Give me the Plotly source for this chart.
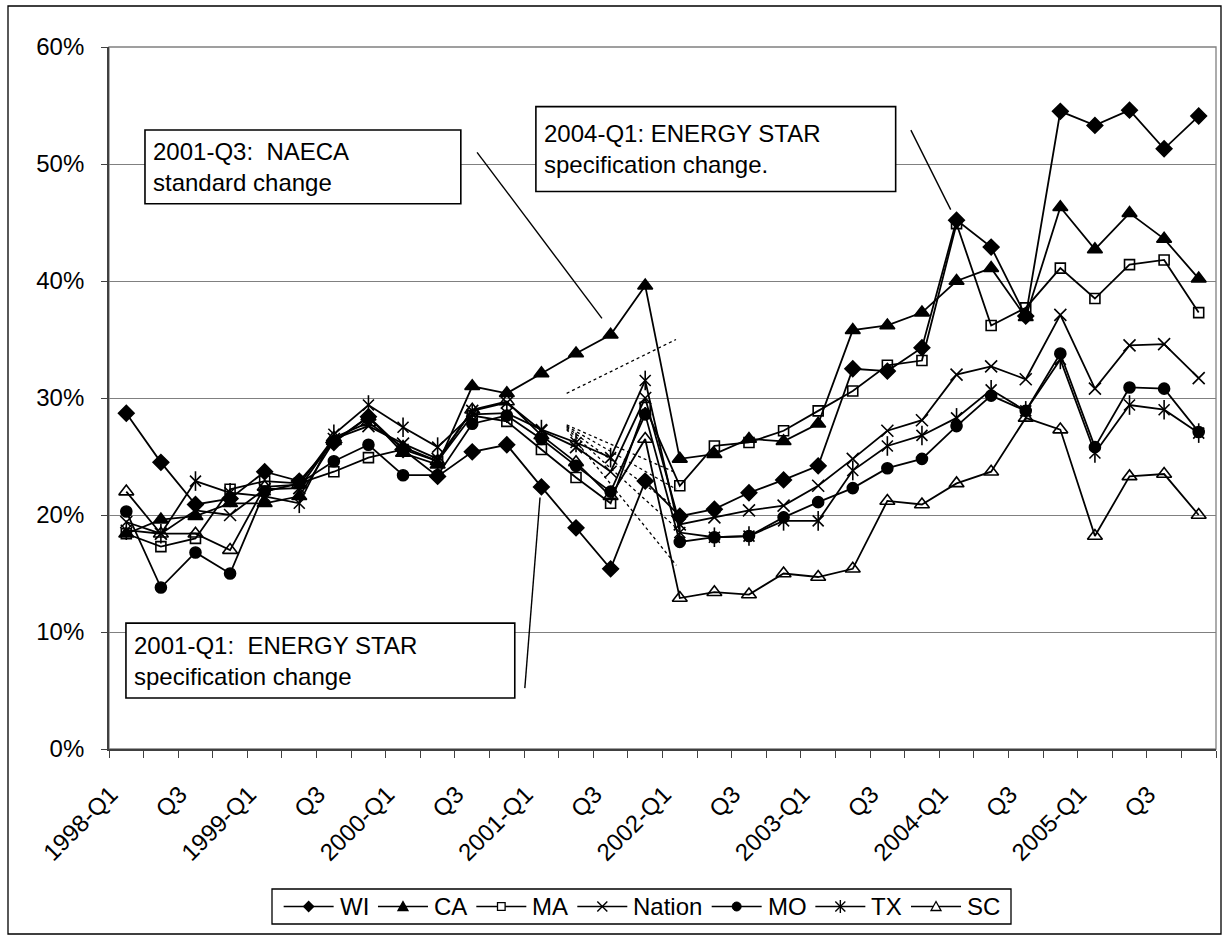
import plotly.graph_objects as go

# Quarterly market share by state, 1998-Q1 .. 2005-Q4
quarters = [f"{y}-Q{q}" for y in range(1998, 2006) for q in range(1, 5)]
tick_labels = ["1998-Q1", "Q3", "1999-Q1", "Q3", "2000-Q1", "Q3", "2001-Q1", "Q3",
               "2002-Q1", "Q3", "2003-Q1", "Q3", "2004-Q1", "Q3", "2005-Q1", "Q3"]

wi = [28.7, 24.5, 20.9, 21.4, 23.7, 22.9, 26.2, 28.4, 25.6, 23.3, 25.4, 26.0, 22.4, 18.9, 15.4, 22.9,
      19.9, 20.5, 21.9, 23.0, 24.2, 32.5, 32.3, 34.3, 45.2, 42.9, 37.0, 54.5, 53.3, 54.6, 51.3, 54.1]
ca = [18.4, 19.6, 19.9, 21.0, 21.0, 21.6, 26.3, 28.4, 25.3, 24.3, 31.0, 30.4, 32.1, 33.8, 35.4, 39.6,
      24.8, 25.2, 26.5, 26.3, 27.8, 35.8, 36.2, 37.3, 40.0, 41.1, 36.9, 46.3, 42.7, 45.8, 43.6, 40.2]
ma = [18.4, 17.3, 18.0, 22.2, 22.9, 22.7, 23.7, 24.9, 25.6, 24.6, 28.5, 28.0, 25.6, 23.2, 21.0, 29.2,
      22.5, 25.9, 26.2, 27.2, 28.9, 30.6, 32.8, 33.2, 44.9, 36.2, 37.7, 41.1, 38.5, 41.4, 41.8, 37.3]
nation = [19.4, 18.4, 20.4, 20.0, 22.2, 22.3, 26.5, 27.6, 26.1, 24.8, 28.9, 29.6, 27.2, 25.8, 23.7, 30.0,
          19.2, 19.8, 20.4, 20.8, 22.5, 24.8, 27.2, 28.1, 32.0, 32.7, 31.6, 37.1, 30.8, 34.5, 34.6, 31.7]
mo = [20.3, 13.8, 16.8, 15.0, 22.0, 22.7, 24.6, 26.0, 23.4, 23.4, 27.8, 28.5, 26.5, 24.2, 22.0, 28.6,
      17.7, 18.1, 18.2, 19.8, 21.1, 22.3, 24.0, 24.8, 27.6, 30.2, 28.9, 33.8, 25.8, 30.9, 30.8, 27.1]
tx = [18.7, 18.4, 22.9, 21.9, 21.6, 21.0, 26.9, 29.4, 27.5, 25.8, 28.6, 28.7, 27.3, 26.2, 24.9, 31.5,
      18.5, 18.1, 18.2, 19.5, 19.5, 23.8, 25.9, 26.8, 28.3, 30.7, 28.9, 33.3, 25.3, 29.4, 29.0, 27.0]
sc = [22.0, 18.4, 18.4, 17.0, 22.4, 22.6, 26.6, 27.9, 25.8, 24.6, 29.0, 29.7, 26.8, 24.5, 21.6, 26.5,
      12.9, 13.4, 13.2, 15.0, 14.7, 15.4, 21.2, 20.9, 22.7, 23.7, 28.3, 27.3, 18.2, 23.3, 23.5, 20.0]

# name, values, marker symbol, size, extra overlay symbol (star = x plus vertical bar)
series = [
    ("WI", wi, "diamond", 12, None),
    ("CA", ca, "triangle-up", 13, None),
    ("MA", ma, "square-open", 10, None),
    ("Nation", nation, "x-thin-open", 12, None),
    ("MO", mo, "circle", 11, None),
    ("TX", tx, "x-thin-open", 11, "line-ns-open"),
    ("SC", sc, "triangle-up-open", 13, None),
]

FONT = "Liberation Sans, Arial, sans-serif"
FS = 24
W, H = 1226, 937
ML, MR, MT, MB = 109, 10, 47, 188
PW, PH = W - ML - MR, H - MT - MB
x_idx = list(range(len(quarters)))


def px(xp):
    """pixel x -> paper x"""
    return (xp - ML) / PW


def py(yp):
    """pixel y -> paper y"""
    return (H - MB - yp) / PH


fig = go.Figure()
for name, vals, sym, size, extra in series:
    fig.add_trace(go.Scatter(
        x=x_idx, y=vals, name=name, mode="lines+markers", showlegend=False,
        line=dict(color="black", width=1.8),
        marker=dict(symbol=sym, size=size, color="black",
                    line=dict(color="black", width=1.6)),
        customdata=quarters,
        hovertemplate="%{customdata}: %{y:.1f}%<extra>" + name + "</extra>",
    ))
    if extra:
        fig.add_trace(go.Scatter(
            x=x_idx, y=vals, name=name, mode="markers", showlegend=False, hoverinfo="skip",
            marker=dict(symbol=extra, size=size + 3, color="black",
                        line=dict(color="black", width=1.6)),
        ))

# Annotation text boxes (data coordinates) and their leader lines
boxes = [
    dict(x0=0.54, x1=9.67, y0=46.6, y1=52.9, text="2001-Q3:  NAECA<br>standard change"),
    dict(x0=11.84, x1=22.24, y0=47.65, y1=54.9, text="2004-Q1: ENERGY STAR<br>specification change."),
    dict(x0=-0.01, x1=11.23, y0=4.36, y1=10.76, text="2001-Q1:  ENERGY STAR<br>specification change"),
]
leaders = [
    (10.14, 51.0, 13.75, 36.8),
    (22.68, 52.9, 23.83, 46.1),
    (11.52, 5.2, 11.96, 21.5),
]
dotted = [
    (12.73, 30.4, 15.89, 35.0),
    (12.73, 27.7, 15.9, 23.6),
    (12.73, 27.6, 15.9, 22.2),
    (12.73, 27.5, 15.9, 20.6),
    (12.73, 27.4, 15.9, 18.9),
    (12.73, 27.3, 15.9, 15.7),
]

shapes = []
annotations = []
# plot-area frame (grey)
shapes.append(dict(type="rect", xref="paper", yref="paper", x0=0, x1=1, y0=0, y1=1,
                   line=dict(color="#808080", width=1.3), layer="below"))
# outer chart border
shapes.append(dict(type="rect", xref="paper", yref="paper",
                   x0=px(8), x1=px(1221), y0=py(934), y1=py(6),
                   line=dict(color="black", width=1.3)))
for x0, y0, x1, y1 in leaders:
    shapes.append(dict(type="line", xref="x", yref="y", x0=x0, y0=y0, x1=x1, y1=y1,
                       line=dict(color="black", width=1.4), layer="above"))
for x0, y0, x1, y1 in dotted:
    shapes.append(dict(type="line", xref="x", yref="y", x0=x0, y0=y0, x1=x1, y1=y1,
                       line=dict(color="black", width=1.3, dash="dot"), layer="above"))
for b in boxes:
    shapes.append(dict(type="rect", xref="x", yref="y", x0=b["x0"], x1=b["x1"],
                       y0=b["y0"], y1=b["y1"], fillcolor="white",
                       line=dict(color="black", width=1.6), layer="above"))
    annotations.append(dict(xref="x", yref="y", x=b["x0"] + 0.17, y=(b["y0"] + b["y1"]) / 2,
                            xanchor="left", yanchor="middle", align="left",
                            text=b["text"], showarrow=False,
                            font=dict(family=FONT, size=FS, color="black")))

# ---- legend: line sample with a small marker, then the series name ----
LEG_X0, LEG_X1, LEG_Y0, LEG_Y1 = 272, 1011, 889, 924
shapes.append(dict(type="rect", xref="paper", yref="paper",
                   x0=px(LEG_X0), x1=px(LEG_X1), y0=py(LEG_Y1), y1=py(LEG_Y0),
                   line=dict(color="black", width=1.3), fillcolor="white"))
# Arial advance widths (em) used to lay the entries out
ADV = {"W": .944, "I": .278, "C": .722, "A": .667, "M": .833, "N": .722, "a": .556,
       "t": .278, "i": .222, "o": .556, "n": .556, "O": .778, "T": .611, "X": .667, "S": .667}
SAMPLE, GAP_TXT, GAP_ITEM = 50, 5, 10
text_w = [sum(ADV[c] for c in s[0]) * FS for s in series]
total = len(series) * (SAMPLE + GAP_TXT) + sum(text_w) + (len(series) - 1) * GAP_ITEM
cx = LEG_X0 + (LEG_X1 - LEG_X0 - total) / 2
cy = (LEG_Y0 + LEG_Y1) / 2


def seg(xa, ya, xb, yb, w=1.6):
    return dict(type="line", xref="paper", yref="paper", x0=px(xa), y0=py(ya),
                x1=px(xb), y1=py(yb), line=dict(color="black", width=w))


def poly(pts, filled):
    d = "M " + " L ".join(f"{px(a):.5f},{py(b):.5f}" for a, b in pts) + " Z"
    return dict(type="path", xref="paper", yref="paper", path=d,
                fillcolor="black" if filled else "white",
                line=dict(color="black", width=1.3))


for (name, vals, sym, size, extra), tw in zip(series, text_w):
    shapes.append(seg(cx, cy, cx + SAMPLE, cy))
    m = cx + SAMPLE / 2
    r = 5
    if sym == "diamond":
        shapes.append(poly([(m, cy - r), (m + r, cy), (m, cy + r), (m - r, cy)], True))
    elif sym == "triangle-up":
        shapes.append(poly([(m, cy - r), (m + r, cy + r * .8), (m - r, cy + r * .8)], True))
    elif sym == "triangle-up-open":
        shapes.append(poly([(m, cy - r), (m + r, cy + r * .8), (m - r, cy + r * .8)], False))
    elif sym == "square-open":
        q = 3.8
        shapes.append(poly([(m - q, cy - q), (m + q, cy - q), (m + q, cy + q), (m - q, cy + q)], False))
    elif sym == "circle":
        shapes.append(dict(type="circle", xref="paper", yref="paper",
                           x0=px(m - 4.5), x1=px(m + 4.5), y0=py(cy + 4.5), y1=py(cy - 4.5),
                           fillcolor="black", line=dict(color="black", width=1)))
    elif sym == "x-thin-open":
        shapes.append(seg(m - r, cy - r, m + r, cy + r, 1.4))
        shapes.append(seg(m - r, cy + r, m + r, cy - r, 1.4))
        if extra:
            shapes.append(seg(m, cy - r - 1.5, m, cy + r + 1.5, 1.4))
    annotations.append(dict(xref="paper", yref="paper", x=px(cx + SAMPLE + GAP_TXT), y=py(cy),
                            xanchor="left", yanchor="middle", text=name, showarrow=False,
                            xshift=-1, font=dict(family=FONT, size=FS, color="black")))
    cx += SAMPLE + GAP_TXT + tw + GAP_ITEM

fig.update_layout(
    width=W, height=H,
    margin=dict(l=ML, r=MR, t=MT, b=MB),
    paper_bgcolor="white", plot_bgcolor="white",
    font=dict(family=FONT, size=FS, color="black"),
    showlegend=False,
    xaxis=dict(
        range=[-0.5, len(quarters) - 0.5],
        tickmode="array", tickvals=[i - 0.45 for i in range(0, len(quarters), 2)],
        ticktext=tick_labels,
        tickangle=-45, ticks="", showgrid=False, zeroline=False,
        showline=True, linecolor="#404040", linewidth=1.8,
        tickfont=dict(family=FONT, size=FS, color="black"),
        ticklabelstandoff=20,
        minor=dict(tickmode="array", tickvals=[i - 0.5 for i in range(len(quarters) + 1)],
                   ticks="outside", ticklen=7, tickcolor="#404040", tickwidth=1.3,
                   showgrid=False),
    ),
    yaxis=dict(
        range=[0, 60], tickmode="array", tickvals=[0, 10, 20, 30, 40, 50, 60],
        ticktext=["0%", "10%", "20%", "30%", "40%", "50%", "60%"],
        ticks="outside", ticklen=6, tickcolor="#404040", tickwidth=1.3,
        showline=True, linecolor="#404040", linewidth=1.8,
        showgrid=True, gridcolor="#808080", gridwidth=1.2, zeroline=False,
        tickfont=dict(family=FONT, size=FS, color="black"),
        ticklabelstandoff=12,
    ),
    shapes=shapes, annotations=annotations,
)

fig.write_html("out.html")
